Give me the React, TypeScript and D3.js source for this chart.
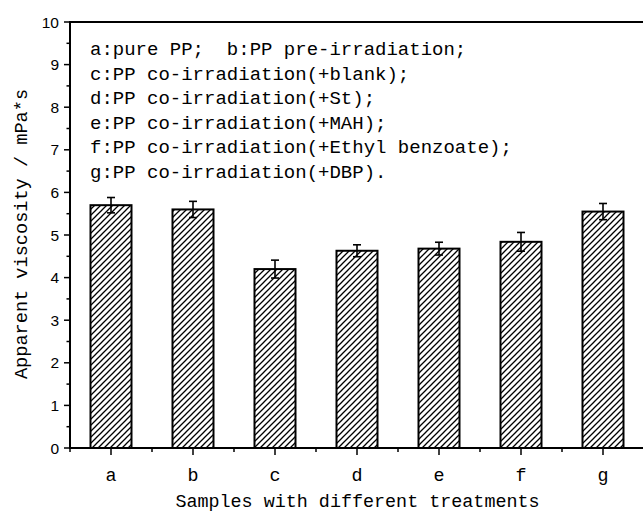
import React, { useEffect } from "react";
import * as d3 from "d3";

const categories = ["a", "b", "c", "d", "e", "f", "g"];
const values = [5.7, 5.6, 4.2, 4.63, 4.68, 4.84, 5.55];
const errors = [0.18, 0.19, 0.21, 0.14, 0.15, 0.22, 0.19];
const yTicks = [0, 1, 2, 3, 4, 5, 6, 7, 8, 9, 10];
const legendLines = [
  "a:pure PP;  b:PP pre-irradiation;",
  "c:PP co-irradiation(+blank);",
  "d:PP co-irradiation(+St);",
  "e:PP co-irradiation(+MAH);",
  "f:PP co-irradiation(+Ethyl benzoate);",
  "g:PP co-irradiation(+DBP).",
];
const xTitle = "Samples with different treatments";
const yTitle = "Apparent viscosity / mPa*s";

const W = 643;
const H = 513;
const left = 70;
const right = 644;
const top = 22;
const bottom = 448;

export default function App() {
  useEffect(() => {
    document.body.style.margin = "0";
  }, []);

  const x = d3.scaleLinear().domain([0.5, 7.5]).range([left, right]);
  const y = d3.scaleLinear().domain([0, 10]).range([bottom, top]);
  const barW = (x(1) - x(0)) * 0.5;
  const minorY = d3.range(0.5, 10, 1);
  const minorX = d3.range(0.5, 8, 1);
  const mono = "Liberation Mono, Cousine, Courier New, monospace";
  const sans = "Liberation Sans, Arial, sans-serif";

  return (
    <svg
      width={W}
      height={H}
      style={{ position: "absolute", left: 0, top: 0, background: "#fff" }}
    >
      <defs>
        <pattern id="hatch" patternUnits="userSpaceOnUse" width={6} height={6}>
          <path
            d="M-1,1 l2,-2 M0,6 l6,-6 M5,7 l2,-2"
            stroke="#000"
            strokeWidth={1.3}
          />
        </pattern>
      </defs>
      <rect x={0} y={0} width={W} height={H} fill="#fff" />

      {values.map((v, i) => (
        <rect
          key={"b" + i}
          x={x(i + 1) - barW / 2}
          y={y(v)}
          width={barW}
          height={y(0) - y(v)}
          fill="url(#hatch)"
          stroke="#000"
          strokeWidth={2}
        />
      ))}

      {values.map((v, i) => {
        const cx = x(i + 1);
        const capW = 4;
        return (
          <g key={"e" + i} stroke="#000" strokeWidth={1.6}>
            <line x1={cx} x2={cx} y1={y(v + errors[i])} y2={y(v - errors[i])} />
            <line x1={cx - capW} x2={cx + capW} y1={y(v + errors[i])} y2={y(v + errors[i])} />
            <line x1={cx - capW} x2={cx + capW} y1={y(v - errors[i])} y2={y(v - errors[i])} />
          </g>
        );
      })}

      <line x1={left} x2={W} y1={top} y2={top} stroke="#000" strokeWidth={2} />
      <line x1={left} x2={W} y1={bottom} y2={bottom} stroke="#000" strokeWidth={2} />
      <line x1={left} x2={left} y1={top - 1} y2={bottom + 1} stroke="#000" strokeWidth={2} />

      {yTicks.map((t) => (
        <g key={"yt" + t}>
          <line x1={left - 6} x2={left} y1={y(t)} y2={y(t)} stroke="#000" strokeWidth={1.5} />
          <text
            x={59}
            y={y(t) + 5.5}
            textAnchor="end"
            fontFamily={sans}
            fontSize={15.5}
            fill="#000"
          >
            {t}
          </text>
        </g>
      ))}
      {minorY.map((t) => (
        <line key={"ym" + t} x1={left - 3.5} x2={left} y1={y(t)} y2={y(t)} stroke="#000" strokeWidth={1.5} />
      ))}

      {categories.map((c, i) => (
        <g key={"xt" + c}>
          <line x1={x(i + 1)} x2={x(i + 1)} y1={bottom} y2={bottom + 7} stroke="#000" strokeWidth={1.5} />
          <text
            x={x(i + 1)}
            y={481}
            textAnchor="middle"
            fontFamily={mono}
            fontSize={18.4}
            fill="#000"
          >
            {c}
          </text>
        </g>
      ))}
      {minorX.map((t) => (
        <line key={"xm" + t} x1={x(t)} x2={x(t)} y1={bottom} y2={bottom + 4} stroke="#000" strokeWidth={1.5} />
      ))}

      <text
        x={357.5}
        y={507}
        textAnchor="middle"
        fontFamily={mono}
        fontSize={18.4}
        fill="#000"
      >
        {xTitle}
      </text>
      <text
        transform={`translate(27,234) rotate(-90)`}
        textAnchor="middle"
        fontFamily={mono}
        fontSize={18.6}
        fill="#000"
      >
        {yTitle}
      </text>

      {legendLines.map((l, i) => (
        <text
          key={"l" + i}
          x={90}
          y={55 + i * 24.5}
          fontFamily={mono}
          fontSize={19}
          fill="#000"
          style={{ whiteSpace: "pre" }}
        >
          {l}
        </text>
      ))}
    </svg>
  );
}
